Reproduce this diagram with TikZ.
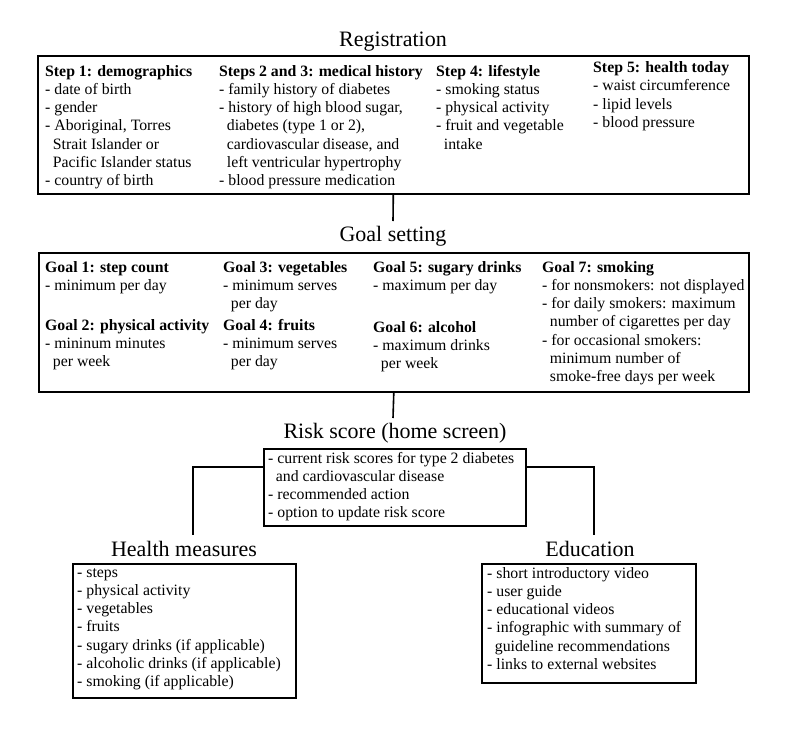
\documentclass[tikz,border=0pt]{standalone}
\usepackage{fontspec}
\setmainfont{Liberation Serif}
\usetikzlibrary{calc}
\newcommand{\ind}{\hspace*{7.7pt}}
\tikzset{
  box/.style={draw, line width=1.6pt, anchor=north west, inner sep=0pt},
  col/.style={anchor=base west, inner sep=0pt, align=left, font=\fontsize{15.8}{18.3}\selectfont},
  ttl/.style={anchor=base, inner sep=0pt, font=\fontsize{22}{26}\selectfont},
  conn/.style={line width=1.6pt},
}
\begin{document}
\begin{tikzpicture}[x=1pt,y=-1pt]
\useasboundingbox (0,0) rectangle (800,731);
% Registration
\node[ttl] (regt) at (393,46) {Registration};
\node[box, minimum width=711pt, minimum height=138pt] (reg) at (37,55) {};
\node[col] (r1) at (45,185.8) {\textbf{Step 1: demographics}\\- date of birth\\- gender\\- Aboriginal, Torres\\\ind Strait Islander or\\\ind Pacific Islander status\\- country of birth};
\node[col] (r2) at (219,185.8) {\textbf{Steps 2 and 3: medical history}\\- family history of diabetes\\- history of high blood sugar,\\\ind diabetes (type 1 or 2),\\\ind cardiovascular disease, and\\\ind left ventricular hypertrophy\\- blood pressure medication};
\node[col] (r3) at (436,149.2) {\textbf{Step 4: lifestyle}\\- smoking status\\- physical activity\\- fruit and vegetable\\\ind intake};
\node[col] (r4) at (593,127.5) {\textbf{Step 5: health today}\\- waist circumference\\- lipid levels\\- blood pressure};
% Goal setting
\node[ttl] (goalt) at (393,241) {Goal setting};
\node[box, minimum width=710pt, minimum height=139pt] (goal) at (38,252) {};
\node[col] (g1) at (45,290.3) {\textbf{Goal 1: step count}\\- minimum per day};
\node[col] (g2) at (45,366.6) {\textbf{Goal 2: physical activity}\\- mininum minutes\\\ind per week};
\node[col] (g3) at (223,308.6) {\textbf{Goal 3: vegetables}\\- minimum serves\\\ind per day};
\node[col] (g4) at (223,366.6) {\textbf{Goal 4: fruits}\\- minimum serves\\\ind per day};
\node[col] (g5) at (373,290.3) {\textbf{Goal 5: sugary drinks}\\- maximum per day};
\node[col] (g6) at (373,368.6) {\textbf{Goal 6: alcohol}\\- maximum drinks\\\ind per week};
\node[col] (g7) at (542,381.8) {\textbf{Goal 7: smoking}\\- for nonsmokers: not displayed\\- for daily smokers: maximum\\\ind number of cigarettes per day\\- for occasional smokers:\\\ind minimum number of\\\ind smoke-free days per week};
% Risk score
\node[ttl] (riskt) at (395,438) {Risk score (home screen)};
\node[box, minimum width=262pt, minimum height=77pt] (risk) at (263,448) {};
\node[col] (rk) at (268,517.9) {- current risk scores for type 2 diabetes\\\ind and cardiovascular disease\\- recommended action\\- option to update risk score};
% Health measures
\node[ttl] (healtht) at (184,556) {Health measures};
\node[box, minimum width=223pt, minimum height=134pt] (health) at (72,563) {};
\node[col] (hl) at (77,686.8) {- steps\\- physical activity\\- vegetables\\- fruits\\- sugary drinks (if applicable)\\- alcoholic drinks (if applicable)\\- smoking (if applicable)};
% Education
\node[ttl] (edut) at (590,556) {Education};
\node[box, minimum width=214pt, minimum height=119pt] (edu) at (481,563) {};
\node[col] (ed) at (487,669.5) {- short introductory video\\- user guide\\- educational videos\\- infographic with summary of\\\ind guideline recommendations\\- links to external websites};
% connectors
\coordinate (c1) at (393,221);
\coordinate (c2) at (393,418);
\coordinate (hl1) at (193,535);
\coordinate (ed1) at (594,535);
\draw[conn] (reg.south) -- (c1);
\draw[conn] (goal.south) -- (c2);
\draw[conn] ($(risk.north west)+(0,19)$) -| (hl1);
\draw[conn] ($(risk.north east)+(0,19)$) -| (ed1);
\end{tikzpicture}
\end{document}
